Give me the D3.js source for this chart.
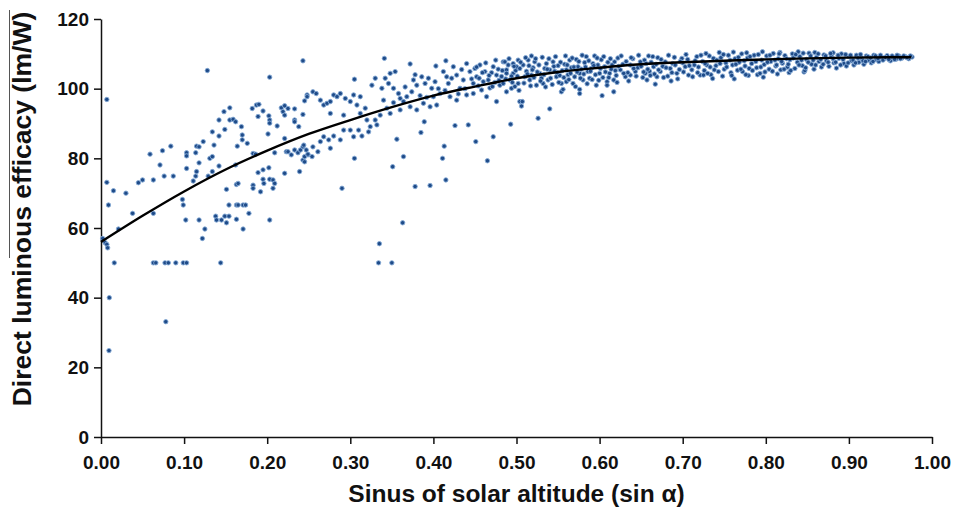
<!DOCTYPE html>
<html>
<head>
<meta charset="utf-8">
<script src="https://cdn.jsdelivr.net/npm/d3@7"></script>
<style>
  body { margin: 0; background: #fff; }
  .axis text { font-family: "Liberation Sans", Arial, sans-serif; font-weight: bold; font-size: 19px; fill: #111; }
  .axis path, .axis line { stroke: #111; stroke-width: 1.5; }
  .title { font-family: "Liberation Sans", Arial, sans-serif; font-weight: bold; fill: #111; }
</style>
</head>
<body>
<script>
// Tick values
var xTicks = [0, 0.1, 0.2, 0.3, 0.4, 0.5, 0.6, 0.7, 0.8, 0.9, 1.0];
var yTicks = [0, 20, 40, 60, 80, 100, 120];

var scatterLow = [
  [0.002,57],[0.005,55.8],[0.007,55.3],[0.008,54.3],[0.007,96.9],[0.007,73.1],[0.009,66.6],[0.010,40],[0.0096,24.8],
  [0.015,70.7],[0.016,50],[0.021,59.7],[0.030,70],[0.038,64.2],[0.045,73],[0.050,73.8],[0.059,81.2],[0.063,73.8],
  [0.063,64.2],[0.063,50],[0.066,50],[0.071,78.1],[0.074,82.2],[0.076,74.9],[0.077,50],[0.078,33.1],[0.081,50],
  [0.084,83.5],[0.087,74.9],[0.090,50],[0.098,68.2],[0.099,66.6],[0.099,50],[0.102,62.3],[0.103,81.6],[0.103,80.7],
  [0.103,77.1],[0.103,50],[0.111,73.5],[0.114,81.6],[0.114,74.9],[0.115,83.5],[0.115,76.2],[0.118,83.3],[0.118,78.7],
  [0.118,62.3],[0.122,57],[0.123,84.8],[0.125,59.7],[0.128,105.2],[0.129,74.9],[0.131,80],[0.134,87.6],[0.134,80.5],
  [0.134,76.2],[0.136,83.8],[0.138,63.4],[0.139,62.3],[0.142,86.4],[0.142,91],[0.142,77.8],[0.144,50],[0.145,62.3],
  [0.148,93.4],[0.149,88.3],[0.149,63.4],[0.151,71.1],[0.151,61.5],[0.154,66.6],[0.154,63.4],[0.155,94.5],[0.155,91],
  [0.159,91.2],[0.162,90.5],[0.162,78.1],[0.163,72.5],[0.163,66.6],[0.163,62.5],[0.164,83.5],[0.165,72.8],[0.165,66.6],
  [0.169,89.1],[0.170,86.7],[0.170,85.3],[0.171,66.6],[0.171,59.7],[0.174,66.6],[0.176,84.3],[0.178,64.2],[0.182,94.3],
  [0.183,81.4],[0.183,72.3],[0.183,71.4],[0.186,81.2],[0.187,95.3],[0.189,92],[0.189,75.9],[0.190,95.5],[0.192,70.4],
  [0.195,93.6],[0.195,76.7],[0.195,74],[0.196,72.8],[0.201,87],[0.202,92.2],[0.202,77.3],[0.203,103.3],[0.203,91],
  [0.203,90.1],[0.203,74],[0.203,62.3],[0.207,73.8],[0.207,71.4],[0.209,81.6],[0.209,72.8],[0.212,89.3],[0.217,94.5],
  [0.219,93.4],[0.221,95.1],[0.221,92.4],[0.221,85.7],[0.221,75.7],[0.223,81.9],[0.225,94.3],[0.225,81.9],[0.229,81],
  [0.233,94.2],[0.233,91],[0.233,90.5],[0.233,82.4],[0.237,81.6],[0.238,89.1],[0.239,76.2],[0.240,82.4],[0.243,108],
  [0.243,92.6],[0.243,83.3],[0.243,79.5],[0.245,96.5],[0.245,80.5],[0.248,98.2],[0.249,81]
];

var scatterMid = [
  [0.244,83.8],[0.247,82.4],[0.249,81.2],[0.254,80.5],[0.245,79],[0.255,83.3],[0.261,81.9],[0.264,84.8],[0.268,86.2],
  [0.274,85.3],[0.276,82.9],[0.280,86.4],[0.288,85.3],[0.292,88.1],[0.300,88.1],[0.304,86.2],[0.310,88.1],[0.314,86.4],
  [0.322,87.6],[0.248,97.7],[0.255,99.1],[0.259,98.6],[0.264,96.7],[0.268,95.3],[0.272,95.8],[0.276,96.3],[0.280,98.2],
  [0.284,97.7],[0.288,98.6],[0.294,97.2],[0.300,96.3],[0.304,98.2],[0.308,95.3],[0.312,97.7],[0.318,94.4],[0.276,92.9],
  [0.292,92.4],[0.312,92.9],[0.326,101],[0.330,103],[0.338,100.1],[0.290,71.4],[0.305,102.7],[0.305,80],[0.320,91],
  [0.324,89.1],[0.330,91],[0.332,89.6],[0.334,50],[0.335,55.5],[0.336,92.4],[0.340,96.7],[0.341,108.7],[0.342,103],
  [0.344,94.4],[0.346,101.5],[0.348,104.4],[0.348,92.9],[0.350,50],[0.351,77.6],[0.352,100.1],[0.354,104.9],[0.356,85.5],
  [0.358,98.6],[0.360,97.2],[0.360,93.9],[0.363,61.5],[0.364,96.3],[0.364,80.5],[0.368,97.7],[0.372,107.1],[0.372,94.8],
  [0.374,99.1],[0.376,102.5],[0.378,71.9],[0.380,101],[0.380,93.9],[0.385,87.4],[0.386,103.4],[0.388,95.8],[0.389,90.5],
  [0.390,101.5],[0.394,103],[0.396,94.8],[0.396,72.2],[0.398,100.1],[0.400,97.7],[0.403,106.5],[0.404,95.3],[0.408,98.6],
  [0.411,80],[0.412,104.9],[0.413,83.5],[0.415,108],[0.415,73.8],[0.416,103.4],[0.418,101.5],[0.420,97.7],[0.424,106.3],
  [0.426,89.4],[0.428,103.9],[0.428,96.7],[0.432,100.1],[0.436,102.5],[0.440,107.2],[0.440,98.2],[0.442,89.6],[0.444,104.9],
  [0.448,101.5],[0.448,98.6],[0.451,84.8],[0.452,103.4],[0.456,106.8],[0.458,99.6],[0.462,104.9],[0.464,97.7],[0.465,79.3],
  [0.466,102.5],[0.472,106.3],[0.472,86.2],[0.476,103.9],[0.476,96.3],[0.480,101],[0.484,107.7],[0.484,101.5],[0.486,107.7],
  [0.488,105.4],[0.488,104.4],[0.488,99.1],[0.492,102.5],[0.493,89.8],[0.494,100.1],[0.496,107.2],[0.496,104.4],[0.498,100.6],
  [0.352,96],[0.366,100.5],[0.378,104],[0.384,98],[0.392,97.5],[0.402,102],[0.406,100],[0.414,99.5],[0.422,103],
  [0.430,98.5],[0.434,105.5],[0.438,100],[0.446,102.8],[0.450,105.8],[0.454,100.8],[0.460,102],[0.468,100.2],[0.470,104.6],
  [0.474,101.8],[0.478,105.6],[0.482,103.5],[0.490,106.8],[0.494,103.6],[0.499,105.2]
];

var scatterHigh = [
  [0.500,106.3],[0.502,108.2],[0.502,101.5],[0.504,105.8],[0.504,96.3],[0.506,95],[0.507,96.3],[0.510,103.4],[0.514,108.2],
  [0.516,102.5],[0.518,109.4],[0.518,103.9],[0.522,107.7],[0.524,101],[0.526,91.5],[0.528,104.4],[0.532,101.5],[0.536,107.2],
  [0.540,105.4],[0.540,94.2],[0.544,107.7],[0.548,103.4],[0.554,101.5],[0.554,99.1],[0.556,99.8],[0.560,105.4],[0.560,102],
  [0.564,108.2],[0.570,103.4],[0.574,106.3],[0.576,104.4],[0.576,99.8],[0.576,98.6],[0.580,102.5],[0.584,109.2],[0.586,104.9],
  [0.592,107.2],[0.594,109.4],[0.596,101],[0.600,104.4],[0.603,98],[0.606,106.3],[0.609,102],[0.609,101],[0.612,104.4],
  [0.617,99.1],[0.617,102.5],[0.618,107.7],[0.625,105.4],[0.631,103.4],[0.637,106.8],[0.637,103.9],[0.643,104.9],[0.649,107.7],
  [0.655,104.4],[0.657,102.5],[0.659,109.4],[0.665,106.3],[0.667,101.3],[0.669,103.4],[0.673,104.9],[0.679,107.7],[0.685,105.8],
  [0.686,102.2],[0.693,104.4],[0.699,108.7],[0.703,106.3],[0.707,103.9],[0.711,105.4],[0.717,109.2],[0.721,103.9],[0.729,106.8],
  [0.737,108.7],[0.743,104.9],
  [0.508,106.8],[0.512,105],[0.520,106],[0.530,103],[0.534,105.8],[0.538,102.5],[0.546,105],[0.550,106.6],[0.552,103.8],
  [0.558,107],[0.562,104],[0.566,106],[0.568,101.5],[0.572,108.4],[0.578,105.6],[0.582,107.5],[0.588,103],[0.590,105.8],
  [0.598,106.8],[0.602,108.3],[0.604,103.2],[0.610,107.6],[0.614,105.6],[0.620,103.8],[0.622,108.8],[0.628,107],[0.634,104.6],
  [0.640,108.6],[0.646,106],[0.652,103.2],[0.654,108.2],[0.660,105],[0.662,107.6],[0.670,108.9],[0.676,106.4],[0.682,103.6],
  [0.688,107.2],[0.690,109],[0.696,105.5],[0.700,107.4],[0.706,108.4],[0.714,106.8],[0.718,104.6],[0.724,107.8],[0.726,105.2],
  [0.732,109.4],[0.734,104],[0.740,106.6],[0.746,108.9]
];

var scatterTail = [
  [0.750,105.6],[0.752,107.4],[0.755,109.6],[0.758,104.6],[0.760,106.8],[0.763,108.6],[0.766,105.3],[0.768,107.6],[0.771,110],
  [0.772,104.9],[0.775,106.5],[0.778,108.8],[0.780,105.8],[0.783,107.2],[0.786,109.6],[0.789,106],[0.790,104],[0.793,104.4],
  [0.795,108.2],[0.798,106.9],[0.801,109.4],[0.804,105.6],[0.806,107.8],[0.809,110.1],[0.812,106.5],[0.815,108.6],[0.818,105.4],
  [0.820,107.3],[0.823,109.5],[0.826,106.2],[0.829,108.3],[0.832,110],[0.835,105.8],[0.838,107.6],[0.841,109.2],[0.844,106.6],
  [0.846,104.8],[0.849,108.4],[0.852,110.2],[0.855,107],[0.858,105.6],[0.861,109],[0.864,107.8],[0.867,106.2],[0.870,109.7],
  [0.873,108],[0.876,106.4],[0.879,109.3],[0.882,107.4],[0.885,105.9],[0.888,108.7],[0.891,110],[0.894,107.2],[0.897,106.5],
  [0.900,109.2],[0.903,108],[0.906,106.8],[0.909,109.6],[0.912,107.6],[0.915,108.8],[0.918,107],[0.921,109.4],[0.924,108.2],
  [0.927,107.4],[0.930,109.6],[0.933,108.4],[0.936,107.8],[0.939,109.1],[0.942,108.6],[0.946,109.5],[0.950,108],[0.953,109],
  [0.957,108.5],[0.960,109.4],[0.964,108.8],[0.968,109.2],[0.972,108.6],[0.976,109.1],
  [0.725,103.9],[0.736,102.9],[0.748,103.6],[0.762,102.8],[0.779,103.8],[0.797,103.3],[0.814,104.2],[0.828,104.6],[0.847,105.2],
  [0.728,110.1],[0.744,110.4],[0.761,110.5],[0.777,110.3],[0.796,110.6],[0.817,110.4],[0.839,110.6],[0.859,110.4],[0.881,110.3]
];

// the dense band above sin a = 0.45
var scatterBand = [
  [0.452,106.2],[0.455,103],[0.459,104.6],[0.463,107.4],[0.467,103.8],[0.471,100.6],[0.475,108.2],[0.479,102.4],[0.483,105.2],
  [0.487,102.8],[0.491,108.6],[0.495,101.8],[0.497,106.4],[0.501,103.6],[0.503,99.5],[0.505,107.6],[0.509,101.6],[0.511,108.9],
  [0.513,104.2],[0.515,106.6],[0.517,100.8],[0.519,105.4],[0.521,103.2],[0.523,108.6],[0.525,104.8],[0.527,106.8],[0.529,102.2],
  [0.531,109],[0.533,104],[0.535,100.5],[0.537,105.6],[0.539,108.6],[0.541,103],[0.543,101.2],[0.545,106.4],[0.547,109.2],
  [0.549,104.6],[0.551,101.8],[0.553,107.6],[0.555,105.2],[0.557,103.2],[0.559,109.4],[0.561,106.8],[0.563,102.6],[0.565,104.4],
  [0.567,108.8],[0.569,106.2],[0.571,100.6],[0.573,104.8],[0.575,107.8],[0.577,103],[0.579,109.6],[0.581,104.2],[0.583,106.2],
  [0.585,101.4],[0.587,108],[0.589,105],[0.591,102.6],[0.593,106.6],[0.595,104],[0.597,108.8],[0.599,102.4],[0.601,105.8],
  [0.605,109.2],[0.607,104.8],[0.611,103.2],[0.613,108.6],[0.615,106.8],[0.619,105.2],[0.621,101.8],[0.623,106.4],[0.626,109.4],
  [0.629,104.4],[0.632,107.8],[0.635,102.2],[0.638,108.9],[0.641,105.8],[0.644,103.6],[0.647,109.6],[0.650,106.4],[0.653,104.8],
  [0.656,107.2],[0.658,105.6],[0.661,103.8],[0.664,109.2],[0.666,104.2],[0.668,107],[0.671,105.4],[0.674,108.4],[0.677,103.2],
  [0.680,106],[0.683,109.6],[0.687,104.6],[0.691,106.8],[0.694,102.8],[0.697,107.8],[0.701,104.8],[0.704,109.8],[0.708,106.6],
  [0.712,103.4],[0.715,108],[0.719,106.2],[0.722,109.6],[0.727,107.2],[0.730,104.4],[0.733,106.2],[0.738,105.4],[0.741,108.2],
  [0.745,107.2],[0.749,109.8],[0.753,106.2],[0.757,108.2],[0.759,103.8],[0.764,107],[0.767,109],[0.770,105.6],[0.774,108],
  [0.776,104],[0.781,109.2],[0.784,105.2],[0.788,107.8],[0.791,109.8],[0.794,106.2],[0.799,104.8],[0.802,107.6],[0.805,109.6],
  [0.808,105],[0.811,108.2],[0.813,106.8],[0.816,110],[0.819,107.8],[0.822,105.6],[0.825,108.6],[0.827,107],[0.830,105.2],
  [0.833,108.8],[0.836,109.8],[0.840,106.8],[0.843,108.2],[0.845,110.2],[0.848,106],[0.851,107.6],[0.854,109.4],[0.857,108.2],
  [0.860,106.8],[0.863,110],[0.866,108.4],[0.869,107],[0.872,109.4],[0.875,107.6],[0.878,110.1],[0.881,108.6],[0.884,107.6],
  [0.887,109.6],[0.890,106.8],[0.893,108.4],[0.896,109.8],[0.899,107.4],[0.902,109.6],[0.905,108.2],[0.908,107.4],[0.911,108.8],
  [0.914,109.8],[0.917,108],[0.920,107.8],[0.923,109.2],[0.926,108.8],[0.929,107.8],[0.932,109.4],[0.935,108.6],[0.938,109.6],
  [0.941,108.2],[0.944,109],[0.948,108.4],[0.952,109.4],[0.955,108.4],[0.958,109.6],[0.962,108.6],[0.966,109.4],[0.970,108.9],
  [0.974,109.4]
];

// Fitted trend line
var trendX = [0, 0.05, 0.1, 0.15, 0.2, 0.25, 0.3, 0.35, 0.4, 0.45, 0.5, 0.55, 0.6, 0.65, 0.7, 0.75, 0.8, 0.85, 0.9, 0.95, 0.975];
var trendY = [56, 63.5, 70.5, 76.8, 82.2, 87, 91, 94.7, 98, 100.6, 103, 104.8, 106, 107, 107.6, 108, 108.4, 108.7, 108.9, 109, 109];

var margin = {top: 19, right: 22, bottom: 78, left: 101},
    width = 954 - margin.left - margin.right,
    height = 515 - margin.top - margin.bottom;

var svg = d3.select("body").append("svg")
    .attr("width", 954)
    .attr("height", 515);

var g = svg.append("g")
    .attr("transform", "translate(" + margin.left + "," + margin.top + ")");

var x = d3.scaleLinear().domain([0, 1]).range([0, width]);
var y = d3.scaleLinear().domain([0, 120]).range([height, 0]);

// axes
g.append("g")
    .attr("class", "axis")
    .call(d3.axisLeft(y).tickValues(yTicks).tickSize(7).tickPadding(5).tickSizeOuter(0));

g.append("g")
    .attr("class", "axis")
    .attr("transform", "translate(0," + height + ")")
    .call(d3.axisBottom(x).tickValues(xTicks).tickFormat(d3.format(".2f")).tickSize(7).tickPadding(12).tickSizeOuter(0));

// points
var points = scatterLow.concat(scatterMid, scatterHigh, scatterTail, scatterBand);

g.selectAll("circle").data(points).enter()
  .append("circle")
    .attr("cx", function(d) { return x(d[0]); })
    .attr("cy", function(d) { return y(d[1]); })
    .attr("r", 2.2)
    .style("fill", "#1f4b88")
    .style("stroke", "#86aad6")
    .style("stroke-width", 0.9);

// trend line
var line = d3.line()
    .curve(d3.curveMonotoneX)
    .x(function(d, i) { return x(trendX[i]); })
    .y(function(d) { return y(d); });

g.append("path")
    .datum(trendY)
    .attr("d", line)
    .style("fill", "none")
    .style("stroke", "#000")
    .style("stroke-width", 2.4);

// titles
svg.append("text")
    .attr("class", "title")
    .attr("transform", "translate(31,209) rotate(-90)")
    .attr("text-anchor", "middle")
    .style("font-size", "26.5px")
    .text("Direct luminous efficacy (lm/W)");

svg.append("line")
    .attr("x1", 9.5).attr("x2", 9.5)
    .attr("y1", 10).attr("y2", 258)
    .style("stroke", "#555")
    .style("stroke-width", 1);

svg.append("text")
    .attr("class", "title")
    .attr("x", margin.left + width / 2)
    .attr("y", 502)
    .attr("text-anchor", "middle")
    .style("font-size", "24.5px")
    .text("Sinus of solar altitude (sin α)");
</script>
</body>
</html>
